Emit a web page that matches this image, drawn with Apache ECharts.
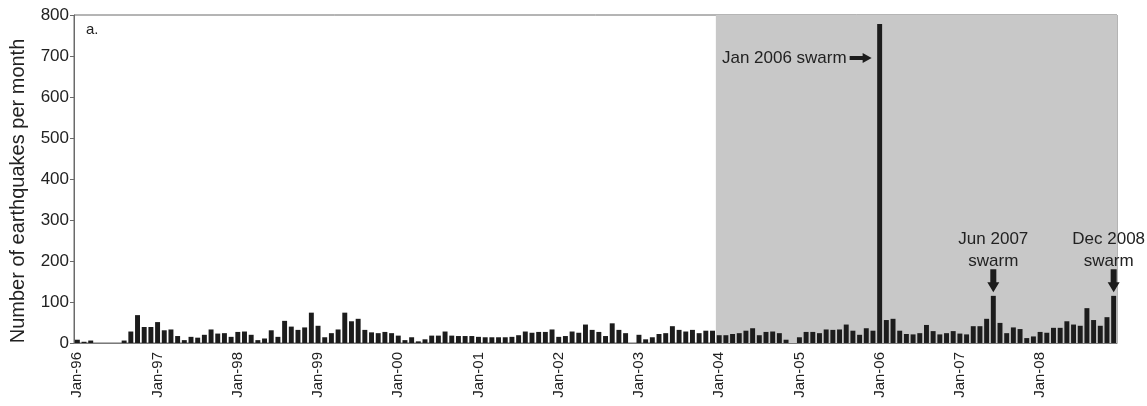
<!DOCTYPE html>
<html>
<head>
<meta charset="utf-8">
<script src="https://cdn.jsdelivr.net/npm/echarts@6/dist/echarts.min.js"></script>
<style>
  html, body { margin: 0; padding: 0; background: #fff; }
  #chart { width: 1147px; height: 406px; }
</style>
</head>
<body>
<div id="chart"></div>
<script>
// Monthly earthquake counts, Jan 1996 - Dec 2008
const MONTHS = ['Jan', 'Feb', 'Mar', 'Apr', 'May', 'Jun', 'Jul', 'Aug', 'Sep', 'Oct', 'Nov', 'Dec'];
const YEARS = ['96', '97', '98', '99', '00', '01', '02', '03', '04', '05', '06', '07', '08'];

const counts1996 = [8, 3, 6, 0, 0, 0, 0, 6, 28, 68, 39, 39];
const counts1997 = [51, 31, 33, 17, 7, 15, 13, 20, 33, 23, 24, 15];
const counts1998 = [27, 28, 20, 7, 11, 31, 15, 54, 40, 32, 38, 74];
const counts1999 = [42, 14, 24, 33, 74, 53, 59, 32, 26, 24, 27, 24];
const counts2000 = [18, 7, 14, 4, 9, 18, 18, 28, 18, 17, 17, 17];
const counts2001 = [15, 14, 14, 14, 14, 15, 19, 28, 25, 27, 27, 33];
const counts2002 = [15, 17, 28, 25, 45, 32, 27, 17, 48, 32, 24, 0];
const counts2003 = [20, 9, 14, 22, 24, 41, 32, 28, 32, 24, 30, 30];
const counts2004 = [19, 19, 22, 24, 30, 36, 19, 27, 28, 24, 8, 0];
const counts2005 = [14, 27, 27, 24, 33, 32, 33, 45, 30, 20, 36, 30];
const counts2006 = [778, 56, 59, 30, 22, 21, 24, 44, 29, 21, 24, 29];
const counts2007 = [23, 21, 41, 41, 59, 115, 49, 24, 38, 34, 12, 16];
const counts2008 = [27, 25, 37, 37, 53, 45, 42, 85, 56, 42, 63, 115];

const Y_TICKS = [0, 100, 200, 300, 400, 500, 600, 700, 800];

// Shaded period and annotated swarms
const SHADE_FROM = 'Jan-04';
const SWARM_JAN06 = { month: 'Jan-06', at: 695, text: 'Jan 2006 swarm' };
const SWARM_JUN07 = { month: 'Jun-07', text: 'Jun 2007\nswarm' };
const SWARM_DEC08 = { month: 'Dec-08', text: 'Dec 2008\nswarm' };

const categories = [];
YEARS.forEach(y => MONTHS.forEach(m => categories.push(m + '-' + y)));
const counts = [].concat(counts1996, counts1997, counts1998, counts1999, counts2000,
  counts2001, counts2002, counts2003, counts2004, counts2005, counts2006, counts2007, counts2008);

const valueOf = name => counts[categories.indexOf(name)];
const shadeStart = categories.indexOf(SHADE_FROM);

const FONT = 'Liberation Sans, Arial, sans-serif';
const TXT = '#222';

const arrowRight = 'path://M0,3 L13,3 L13,0 L22,5 L13,10 L13,7 L0,7 Z';
const arrowDown = 'path://M3,0 L9,0 L9,13 L12,13 L6,23 L0,13 L3,13 Z';

const chart = echarts.init(document.getElementById('chart'), null, { renderer: 'canvas' });
chart.setOption({
  animation: false,
  backgroundColor: '#fff',
  grid: { left: 74, right: 30, top: 15, bottom: 63, show: true, borderColor: '#6a6a6a', borderWidth: 1, backgroundColor: 'transparent' },
  xAxis: [{
    type: 'category',
    data: categories,
    axisLine: { lineStyle: { color: '#7a7a7a', width: 1 } },
    axisTick: { show: false },
    axisLabel: { interval: 11, rotate: 90, fontFamily: FONT, fontSize: 15, color: TXT, margin: 9 }
  }, {
    type: 'value', min: 0, max: categories.length, show: false
  }],
  yAxis: {
    type: 'value',
    min: Y_TICKS[0], max: Y_TICKS[Y_TICKS.length - 1], interval: 100,
    name: 'Number of earthquakes per month',
    nameLocation: 'middle', nameGap: 46, nameRotate: 90,
    nameTextStyle: { fontFamily: FONT, fontSize: 20, color: TXT, padding: [0, 24, 0, 0] },
    axisLine: { show: true, lineStyle: { color: '#6a6a6a', width: 1 } },
    axisTick: { show: true, length: 4, lineStyle: { color: '#6a6a6a' } },
    axisLabel: { fontFamily: FONT, fontSize: 17, color: TXT, margin: 5 },
    splitLine: { show: false }
  },
  graphic: [{
    type: 'text', left: 86, top: 22,
    style: { text: 'a.', fontFamily: FONT, fontSize: 15, fill: TXT }
  }],
  series: [{
    // shaded background period
    type: 'line', xAxisIndex: 1, data: [], silent: true,
    markArea: {
      silent: true,
      itemStyle: { color: '#c8c8c8' },
      data: [[{ xAxis: shadeStart }, { xAxis: categories.length }]]
    }
  }, {
    type: 'bar',
    data: counts,
    barWidth: '74%',
    itemStyle: { color: '#1c1c1c' },
    markPoint: {
      silent: true,
      itemStyle: { color: '#1c1c1c' },
      label: { show: true, fontFamily: FONT, fontSize: 17, color: TXT },
      data: [{
        coord: [SWARM_JAN06.month, SWARM_JAN06.at],
        symbol: arrowRight, symbolSize: [22, 10], symbolOffset: [-19, 0],
        label: { formatter: SWARM_JAN06.text, position: 'left', distance: 3 }
      }, {
        coord: [SWARM_JUN07.month, valueOf(SWARM_JUN07.month)],
        symbol: arrowDown, symbolSize: [12, 23], symbolOffset: [0, -15],
        label: { formatter: SWARM_JUN07.text, position: 'top', distance: 0, lineHeight: 22, align: 'center', offset: [0, 3] }
      }, {
        coord: [SWARM_DEC08.month, valueOf(SWARM_DEC08.month)],
        symbol: arrowDown, symbolSize: [12, 23], symbolOffset: [0, -15],
        label: { formatter: SWARM_DEC08.text, position: 'top', distance: 0, lineHeight: 22, align: 'center', offset: [-5, 3] }
      }]
    }
  }]
});
</script>
</body>
</html>
